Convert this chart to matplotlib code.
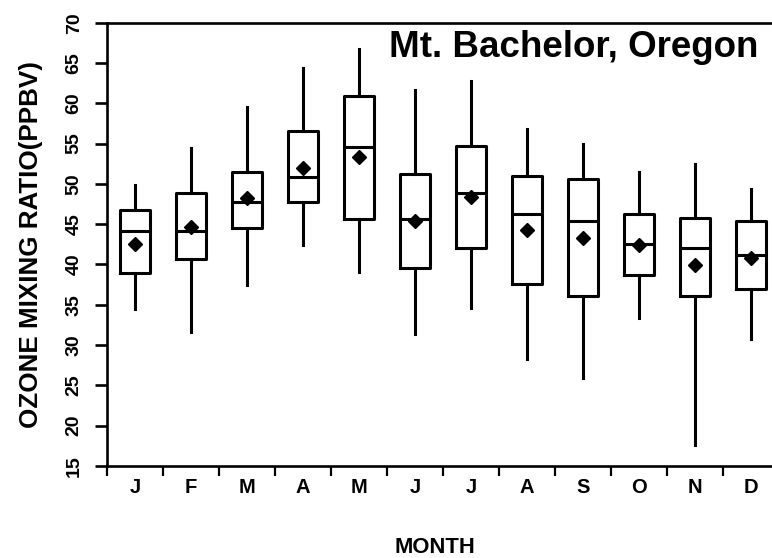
import numpy as np
import matplotlib
matplotlib.use("Agg")
import matplotlib.pyplot as plt

# Monthly ozone statistics (ppbv)
months = ['J', 'F', 'M', 'A', 'M', 'J', 'J', 'A', 'S', 'O', 'N', 'D']
whisk_lo = [34.5, 31.6, 37.5, 42.4, 39.1, 31.4, 34.6, 28.3, 25.9, 33.3, 17.6, 30.8]
q1 = [39.0, 40.7, 44.5, 47.7, 45.7, 39.6, 42.0, 37.6, 36.1, 38.7, 36.1, 37.0]
median = [44.2, 44.1, 47.8, 50.8, 54.6, 45.6, 48.9, 46.3, 45.4, 42.6, 42.0, 41.2]
q3 = [46.8, 48.9, 51.5, 56.6, 60.9, 51.2, 54.7, 51.0, 50.6, 46.3, 45.8, 45.4]
whisk_hi = [49.9, 54.4, 59.5, 64.4, 66.8, 61.6, 62.8, 56.8, 55.0, 51.5, 52.5, 49.4]
mean = [42.6, 44.6, 48.3, 52.0, 53.3, 45.4, 48.4, 44.3, 43.3, 42.4, 39.9, 40.8]

plt.rcParams['font.family'] = ['Liberation Sans', 'DejaVu Sans']
plt.rcParams['font.weight'] = 'bold'

stats = []
for i in range(len(months)):
    stats.append(dict(whislo=whisk_lo[i], q1=q1[i], med=median[i], q3=q3[i],
                      whishi=whisk_hi[i], mean=mean[i], fliers=[]))

fig = plt.figure(figsize=(7.72, 5.58), dpi=100)
ax = fig.add_axes([0.1386, 0.1649, 0.8705, 0.7944])

lw = 2.2
ax.bxp(stats, positions=np.arange(len(months)), widths=0.52,
       showmeans=True, showcaps=False, showfliers=False,
       boxprops=dict(color='black', linewidth=lw),
       medianprops=dict(color='black', linewidth=lw),
       whiskerprops=dict(color='black', linewidth=lw),
       meanprops=dict(marker='D', markerfacecolor='black',
                      markeredgecolor='black', markersize=7))

ax.set_xlim(-0.5, 11.5)
ax.set_ylim(15, 70)

for s in ax.spines.values():
    s.set_linewidth(1.9)

# y axis
ax.set_yticks(np.arange(15, 71, 5))
ax.tick_params(axis='y', direction='out', length=8.5, width=1.9, pad=9,
               labelsize=14)
for lab in ax.get_yticklabels():
    lab.set_rotation(90)
    lab.set_va('center')

# x axis: ticks between months, labels centred on months
ax.set_xticks(np.arange(-0.5, 11.6, 1))
ax.set_xticklabels([])
ax.set_xticks(np.arange(len(months)), minor=True)
ax.set_xticklabels(months, minor=True)
ax.tick_params(axis='x', which='major', direction='out', length=7, width=1.6)
ax.tick_params(axis='x', which='minor', length=0, pad=8.5, labelsize=14.5)

fig.text(0.982, 0.898, 'Mt. Bachelor, Oregon', ha='right', va='baseline',
         fontsize=26.5, fontweight='bold')
fig.text(435 / 772, 0.009, 'MONTH', ha='center', va='baseline',
         fontsize=15.8, fontweight='bold')
fig.text(31 / 772, 0.561, 'OZONE MIXING RATIO(PPBV)', rotation=90,
         ha='center', va='center', fontsize=18.7, fontweight='bold')

fig.savefig('out.png', dpi=100)
